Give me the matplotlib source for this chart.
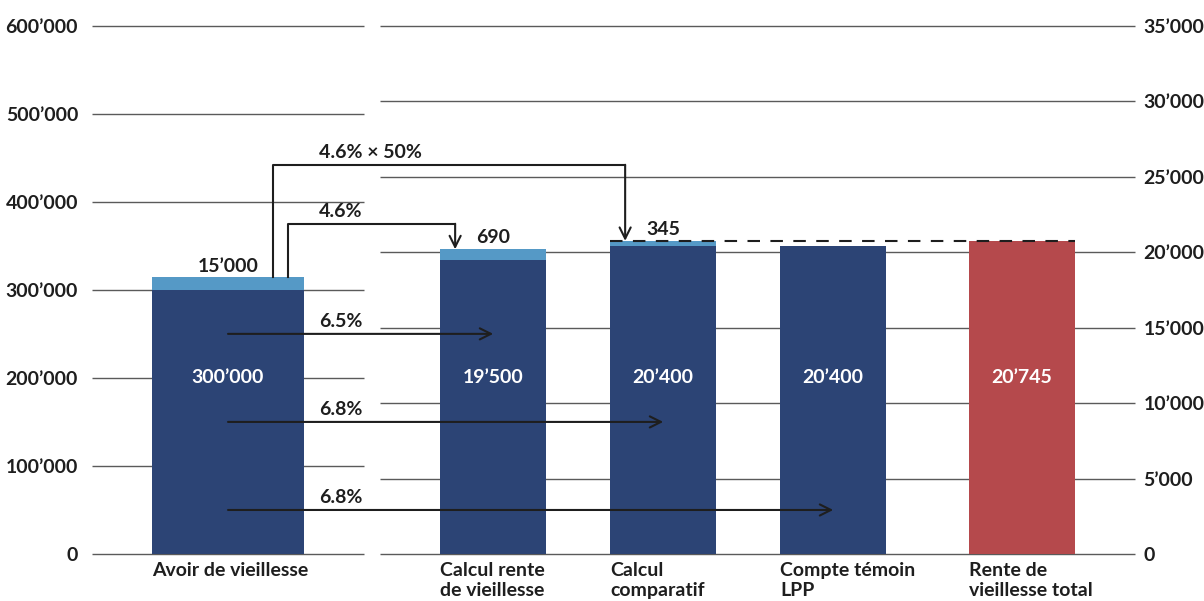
import matplotlib.pyplot as plt
from matplotlib.ticker import FuncFormatter

plt.rcParams['font.family'] = ['Lato', 'DejaVu Sans']
plt.rcParams['font.weight'] = 'bold'

# data
categories = ['Avoir de vieillesse', 'Calcul rente\nde vieillesse', 'Calcul\ncomparatif',
              'Compte témoin\nLPP', 'Rente de\nvieillesse total']
avoir_base = 300000
avoir_bonus = 15000
rente_base = [19500, 20400, 20400, 20745]
rente_bonus = [690, 345, 0, 0]
rente_labels = ['19’500', '20’400', '20’400', '20’745']
rate_labels = ['6.5%', '6.8%', '6.8%']
rate_levels = [250000, 150000, 50000]
bonus_labels = ['4.6%', '4.6% × 50%']
left_ticks = [0, 100000, 200000, 300000, 400000, 500000, 600000]
right_ticks = [0, 5000, 10000, 15000, 20000, 25000, 30000, 35000]

navy = '#2c4475'
light = '#5599c6'
red = '#b5494c'
ink = '#1e1e1e'
grid = '#5a5a5a'
fs = 14

# layout
x_left = 0
x_right = [1.56, 2.56, 3.56, 4.67]
w_left = 0.894
w_right = 0.624

def fmt(v, pos=None):
    return f"{int(v):,}".replace(',', '’')

fig = plt.figure(figsize=(12.04, 6.01), dpi=100)
ax = fig.add_axes([92/1204, 47/601, 1043/1204, 528.3/601])
ax2 = ax.twinx()

ax.set_xlim(-0.8, 5.335)

for a in (ax, ax2):
    for s in a.spines.values():
        s.set_visible(False)
    a.tick_params(length=0, labelsize=fs, colors=ink)
    a.set_xticks([])
ax.set_yticks(left_ticks)
ax2.set_yticks(right_ticks)
ax.yaxis.set_major_formatter(FuncFormatter(fmt))
ax2.yaxis.set_major_formatter(FuncFormatter(fmt))
ax.tick_params(axis='y', pad=10)
ax2.tick_params(axis='y', pad=6)

# split gridlines
ax.hlines(left_ticks, 0, 0.2608, transform=ax.get_yaxis_transform(), color=grid, lw=1,
          zorder=3, clip_on=False)
ax2.hlines(right_ticks, 0.2761, 1, transform=ax2.get_yaxis_transform(), color=grid, lw=1,
           zorder=0, clip_on=False)

# left bar
ax.bar(x_left, avoir_base, width=w_left, color=navy, zorder=4)
ax.bar(x_left, avoir_bonus, bottom=avoir_base, width=w_left, color=light, zorder=4)
ax.text(x_left, 1/3, fmt(avoir_base), transform=ax.get_xaxis_transform(),
        ha='center', va='center', color='white', fontsize=fs, zorder=5)
ax.annotate(fmt(avoir_bonus), xy=(x_left, avoir_base + avoir_bonus), xytext=(0, 1),
            textcoords='offset points', ha='center', va='bottom', color=ink, fontsize=fs)

# right bars
colors = [navy, navy, navy, red]
ax2.bar(x_right, rente_base, width=w_right, color=colors, zorder=2)
ax2.bar(x_right, rente_bonus, bottom=rente_base, width=w_right, color=light, zorder=2)
for x, lab in zip(x_right, rente_labels):
    ax2.text(x, 1/3, lab, transform=ax2.get_xaxis_transform(),
             ha='center', va='center', color='white', fontsize=fs)
for x, b, t in zip(x_right[:2], rente_base, rente_bonus):
    ax2.annotate(str(t), xy=(x, b + t), xytext=(0, 2), textcoords='offset points',
                 ha='center', va='bottom', color=ink, fontsize=fs)

# dashed total line
total = rente_base[1] + rente_bonus[1]
ax2.plot([x_right[1] - w_right/2, x_right[3] + w_right/2], [total, total],
         color=ink, lw=1.5, dashes=(6, 5), zorder=5)

# conversion arrows
arrow = dict(arrowstyle='->', color=ink, lw=1.5, mutation_scale=20, shrinkA=0, shrinkB=0)
for lab, lev, xt in zip(rate_labels, rate_levels, x_right):
    ax2.annotate('', xy=(xt, lev), xycoords=ax.transData, xytext=(x_left, lev),
                 textcoords=ax.transData, arrowprops=arrow, zorder=6)
    ax2.annotate(lab, xy=(0.535, lev), xycoords=ax.transData, xytext=(0, 3),
                 textcoords='offset points', ha='left', va='bottom', color=ink, fontsize=fs)

# bonus elbow arrows
elbows = [(0.353, 375000, x_right[0] - 0.224, rente_base[0] + rente_bonus[0]),
          (0.265, 442000, x_right[1] - 0.224, rente_base[1] + rente_bonus[1])]
for lab, (x0, lev, x1, tip) in zip(bonus_labels, elbows):
    ax2.plot([x0, x0, x1], [avoir_base + avoir_bonus, lev, lev], transform=ax.transData,
             color=ink, lw=1.5, clip_on=False, zorder=6)
    ax2.annotate('', xy=(x1, tip), xycoords='data', xytext=(x1, lev), textcoords=ax.transData,
                 arrowprops=arrow, zorder=6)
    ax2.annotate(lab, xy=(0.535, lev), xycoords=ax.transData, xytext=(0, 3),
                 textcoords='offset points', ha='left', va='bottom', color=ink, fontsize=fs)

# category labels
edges = [x_left - w_left/2] + [x - w_right/2 for x in x_right]
for e, lab in zip(edges, categories):
    ax2.annotate(lab, xy=(e, 0), xycoords=('data', 'axes fraction'), xytext=(0, -6),
                 textcoords='offset points', ha='left', va='top', color=ink,
                 fontsize=fs, linespacing=1.2)

ax.set_ylim(0, 600000)
ax2.set_ylim(0, 35000)
fig.savefig('out.png', dpi=100)
